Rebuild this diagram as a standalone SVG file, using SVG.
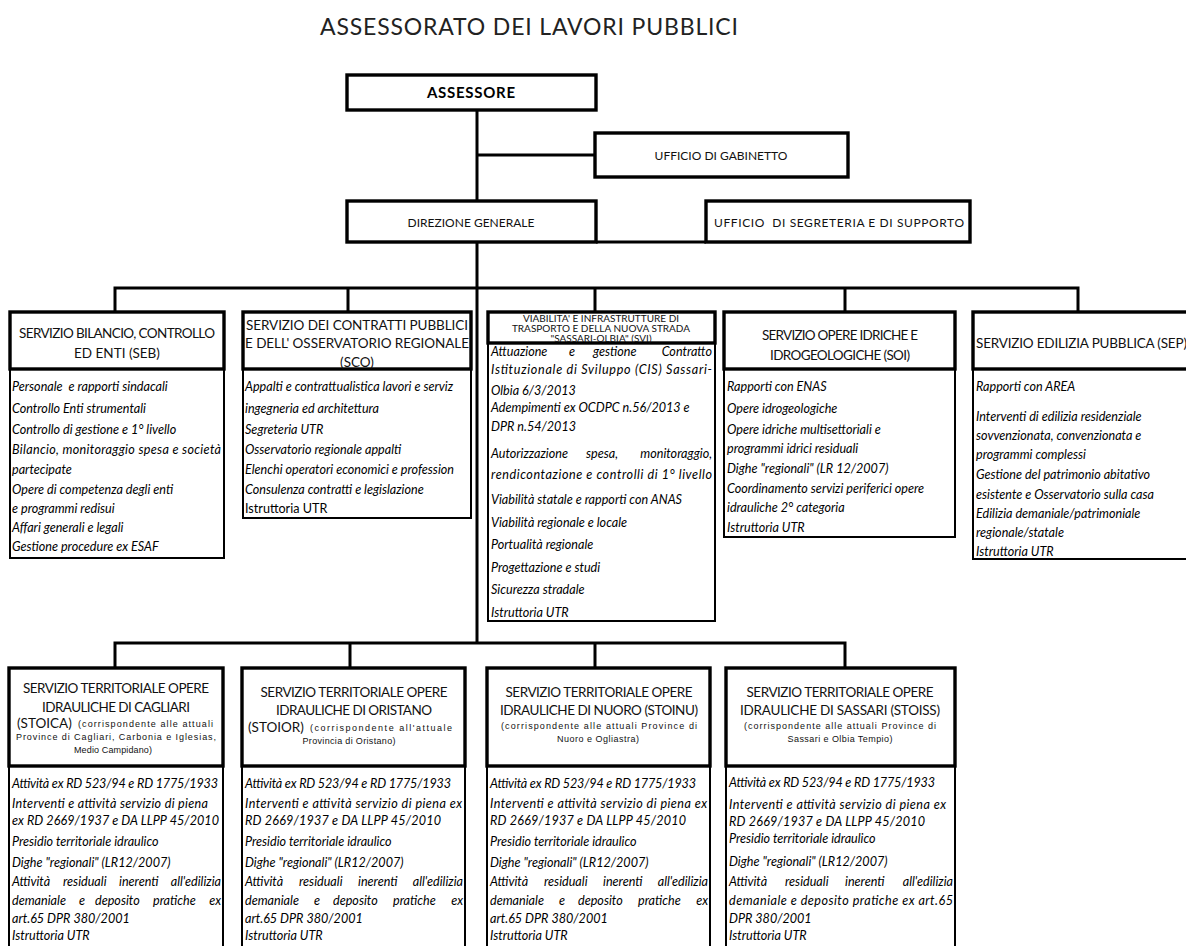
<svg xmlns="http://www.w3.org/2000/svg" width="1186" height="946" viewBox="0 0 1186 946">
<style>
.hb{fill:#fff;stroke:#000;stroke-width:3.4}
.bb{fill:#fff;stroke:#000;stroke-width:2}
.c{stroke:#000;stroke-width:3;fill:none}
.h{font-family:Lato,"Liberation Sans",sans-serif;font-size:13.5px;fill:#111;text-anchor:middle}
.t{font-family:Lato,"Liberation Sans",sans-serif;font-size:12px;fill:#111;text-anchor:middle}
.hs{font-family:Lato,"Liberation Sans",sans-serif;font-size:10px;fill:#111;text-anchor:middle}
.sm{font-family:"Liberation Sans",Arial,sans-serif;font-size:9px;fill:#111}
.mid{text-anchor:middle}
.b{font-family:Lato,"Liberation Sans",sans-serif;font-size:12.6px;font-style:italic;fill:#000}
.u{font-family:Lato,"Liberation Sans",sans-serif;font-size:12.6px;fill:#000}
</style>
<defs>
<clipPath id="clipSCO"><rect x="243" y="369" width="228" height="150"/></clipPath>
</defs>
<rect width="1186" height="946" fill="#fff"/>
<g id="title">
<text x="529" y="35" font-family="Lato, 'Liberation Sans', sans-serif" font-size="23" fill="#222" text-anchor="middle" textLength="418">ASSESSORATO DEI LAVORI PUBBLICI</text>
</g>
<g id="connectors">
<path class="c" d="M477 110V201M477 242V643M477 155H595M596 242H706"/>
<path class="c" d="M115 312V288H1078V312M348 288V312M595 288V312M845 288V312"/>
<path class="c" d="M115 668V643H845V668M350 643V668M595 643V668"/>
</g>
<g id="n-assessore">
<rect class="hb" x="347" y="75" width="249" height="35"/>
<text x="471" y="98" font-family="Lato, 'Liberation Sans', sans-serif" font-size="15" font-weight="bold" text-anchor="middle" textLength="88">ASSESSORE</text>
</g>
<g id="n-gabinetto">
<rect class="hb" x="595" y="133" width="253" height="44"/>
<text class="t" x="721" y="160">UFFICIO DI GABINETTO</text>
</g>
<g id="n-dg">
<rect class="hb" x="347" y="201" width="249" height="41"/>
<text class="t" x="471" y="227">DIREZIONE GENERALE</text>
</g>
<g id="n-segreteria">
<rect class="hb" x="706" y="201" width="264" height="41"/>
<text class="t" x="839" y="227" style="white-space:pre" textLength="250">UFFICIO  DI SEGRETERIA E DI SUPPORTO</text>
</g>
<g id="n-seb">
<rect class="bb" x="10" y="369" width="214" height="189"/>
<rect class="hb" x="10" y="312" width="214" height="57"/>
<text class="h" x="117" y="338" textLength="196">SERVIZIO BILANCIO, CONTROLLO</text>
<text class="h" x="117" y="358">ED ENTI (SEB)</text>
<text class="b" x="12" y="391" style="white-space:pre">Personale  e rapporti sindacali</text>
<text class="b" x="12" y="413">Controllo Enti strumentali</text>
<text class="b" x="12" y="434">Controllo di gestione e 1° livello</text>
<text class="b" x="12" y="454" textLength="209">Bilancio, monitoraggio spesa e società</text>
<text class="b" x="12" y="474">partecipate</text>
<text class="b" x="12" y="494">Opere di competenza degli enti</text>
<text class="b" x="12" y="513">e programmi redisui</text>
<text class="b" x="12" y="532">Affari generali e legali</text>
<text class="b" x="12" y="551">Gestione procedure ex ESAF</text>
</g>
<g id="n-sco">
<rect class="bb" x="243" y="369" width="228" height="149"/>
<rect class="hb" x="243" y="312" width="228" height="57"/>
<text class="h" x="357" y="330" textLength="222">SERVIZIO DEI CONTRATTI PUBBLICI</text>
<text class="h" x="357" y="348" textLength="224">E DELL' OSSERVATORIO REGIONALE</text>
<text class="h" x="357" y="367">(SCO)</text>
<g clip-path="url(#clipSCO)">
<text class="b" x="245" y="391">Appalti e contrattualistica lavori e serviz</text>
<text class="b" x="245" y="413">ingegneria ed architettura</text>
<text class="b" x="245" y="434">Segreteria UTR</text>
<text class="b" x="245" y="454">Osservatorio regionale appalti</text>
<text class="b" x="245" y="474">Elenchi operatori economici e profession</text>
<text class="b" x="245" y="494">Consulenza contratti e legislazione</text>
<text class="u" x="245" y="513">Istruttoria UTR</text>
</g>
</g>
<g id="n-svi">
<rect class="bb" x="488" y="343" width="227" height="278"/>
<rect class="hb" x="488" y="312" width="227" height="31"/>
<text class="hs" x="601" y="321.5">VIABILITA' E INFRASTRUTTURE DI</text>
<text class="hs" x="601" y="331.5">TRASPORTO E DELLA NUOVA STRADA</text>
<text class="hs" x="601" y="341.5">"SASSARI-OLBIA" (SVI)</text>
<text class="b" y="356"><tspan x="491">Attuazione</tspan><tspan x="569">e</tspan><tspan x="593">gestione</tspan><tspan x="712" text-anchor="end">Contratto</tspan></text>
<text class="b" x="491" y="374" textLength="221">Istituzionale di Sviluppo (CIS) Sassari-</text>
<text class="b" x="491" y="395">Olbia 6/3/2013</text>
<text class="b" x="491" y="412">Adempimenti ex OCDPC n.56/2013 e</text>
<text class="b" x="491" y="431">DPR n.54/2013</text>
<text class="b" y="458"><tspan x="491">Autorizzazione</tspan><tspan x="586">spesa,</tspan><tspan x="712" text-anchor="end">monitoraggio,</tspan></text>
<text class="b" x="491" y="479" textLength="221">rendicontazione e controlli di 1° livello</text>
<text class="b" x="491" y="504">Viabilità statale e rapporti con ANAS</text>
<text class="b" x="491" y="527">Viabilità regionale e locale</text>
<text class="b" x="491" y="549">Portualità regionale</text>
<text class="b" x="491" y="572">Progettazione e studi</text>
<text class="b" x="491" y="594">Sicurezza stradale</text>
<text class="b" x="491" y="617">Istruttoria UTR</text>
</g>
<g id="n-soi">
<rect class="bb" x="724" y="369" width="231" height="168"/>
<rect class="hb" x="724" y="312" width="231" height="57"/>
<text class="h" x="840" y="340" textLength="156">SERVIZIO OPERE IDRICHE E</text>
<text class="h" x="840" y="360" textLength="140">IDROGEOLOGICHE (SOI)</text>
<text class="b" x="727" y="391">Rapporti con ENAS</text>
<text class="b" x="727" y="413">Opere idrogeologiche</text>
<text class="b" x="727" y="434">Opere idriche multisettoriali e</text>
<text class="b" x="727" y="453">programmi idrici residuali</text>
<text class="b" x="727" y="473">Dighe "regionali" (LR 12/2007)</text>
<text class="b" x="727" y="493">Coordinamento servizi periferici opere</text>
<text class="b" x="727" y="512">idrauliche 2° categoria</text>
<text class="b" x="727" y="532">Istruttoria UTR</text>
</g>
<g id="n-sep">
<rect class="bb" x="973" y="369" width="230" height="190"/>
<rect class="hb" x="973" y="312" width="230" height="57"/>
<text class="h" x="976" y="348" style="text-anchor:start" textLength="211">SERVIZIO EDILIZIA PUBBLICA (SEP)</text>
<text class="b" x="976" y="391">Rapporti con AREA</text>
<text class="b" x="976" y="421">Interventi di edilizia residenziale</text>
<text class="b" x="976" y="440">sovvenzionata, convenzionata e</text>
<text class="b" x="976" y="459">programmi complessi</text>
<text class="b" x="976" y="479">Gestione del patrimonio abitativo</text>
<text class="b" x="976" y="499">esistente e Osservatorio sulla casa</text>
<text class="b" x="976" y="518">Edilizia demaniale/patrimoniale</text>
<text class="b" x="976" y="537">regionale/statale</text>
<text class="b" x="976" y="556">Istruttoria UTR</text>
</g>
<g id="n-stoica">
<rect class="bb" x="9" y="766" width="214" height="190"/>
<rect class="hb" x="9" y="668" width="214" height="98"/>
<text class="h" x="116" y="693" textLength="186">SERVIZIO TERRITORIALE OPERE</text>
<text class="h" x="116" y="712" textLength="148">IDRAULICHE DI CAGLIARI</text>
<text class="h" x="17" y="728" style="text-anchor:start">(STOICA)</text>
<text class="sm" x="78" y="727" textLength="135">(corrispondente alle attuali</text>
<text class="sm mid" x="116" y="740" textLength="200">Province di Cagliari, Carbonia e Iglesias,</text>
<text class="sm mid" x="113" y="753" textLength="78">Medio Campidano)</text>
<text class="b" x="12" y="788" textLength="206">Attività ex RD 523/94 e RD 1775/1933</text>
<text class="b" x="12" y="808" textLength="196">Interventi e attività servizio di piena</text>
<text class="b" x="12" y="825" textLength="207">ex RD 2669/1937 e DA LLPP 45/2010</text>
<text class="b" x="12" y="846">Presidio territoriale idraulico</text>
<text class="b" x="12" y="867">Dighe "regionali" (LR12/2007)</text>
<text class="b" y="886"><tspan x="12">Attività</tspan><tspan x="63">residuali</tspan><tspan x="119">inerenti</tspan><tspan x="221" text-anchor="end">all'edilizia</tspan></text>
<text class="b" y="905"><tspan x="12">demaniale</tspan><tspan x="79">e</tspan><tspan x="95">deposito</tspan><tspan x="153">pratiche</tspan><tspan x="221" text-anchor="end">ex</tspan></text>
<text class="b" x="12" y="923">art.65 DPR 380/2001</text>
<text class="b" x="12" y="940">Istruttoria UTR</text>
</g>
<g id="n-stoior">
<rect class="bb" x="242" y="766" width="223" height="190"/>
<rect class="hb" x="242" y="668" width="223" height="98"/>
<text class="h" x="354" y="697" textLength="187">SERVIZIO TERRITORIALE OPERE</text>
<text class="h" x="354" y="715" textLength="156">IDRAULICHE DI ORISTANO</text>
<text class="h" x="248" y="732" style="text-anchor:start">(STOIOR)</text>
<text class="sm" x="310" y="731" textLength="142">(corrispondente all'attuale</text>
<text class="sm mid" x="349" y="744" textLength="93">Provincia di Oristano)</text>
<text class="b" x="245" y="788" textLength="206">Attività ex RD 523/94 e RD 1775/1933</text>
<text class="b" x="245" y="808" textLength="217">Interventi e attività servizio di piena ex</text>
<text class="b" x="245" y="825" textLength="196">RD 2669/1937 e DA LLPP 45/2010</text>
<text class="b" x="245" y="846">Presidio territoriale idraulico</text>
<text class="b" x="245" y="867">Dighe "regionali" (LR12/2007)</text>
<text class="b" y="886"><tspan x="245">Attività</tspan><tspan x="299">residuali</tspan><tspan x="358">inerenti</tspan><tspan x="463" text-anchor="end">all'edilizia</tspan></text>
<text class="b" y="905"><tspan x="245">demaniale</tspan><tspan x="314">e</tspan><tspan x="333">deposito</tspan><tspan x="393">pratiche</tspan><tspan x="463" text-anchor="end">ex</tspan></text>
<text class="b" x="245" y="923">art.65 DPR 380/2001</text>
<text class="b" x="245" y="940">Istruttoria UTR</text>
</g>
<g id="n-stoinu">
<rect class="bb" x="487" y="766" width="223" height="190"/>
<rect class="hb" x="487" y="668" width="223" height="98"/>
<text class="h" x="599" y="697" textLength="187">SERVIZIO TERRITORIALE OPERE</text>
<text class="h" x="599" y="715" textLength="198">IDRAULICHE DI NUORO (STOINU)</text>
<text class="sm mid" x="599" y="729" textLength="196">(corrispondente alle attuali Province di</text>
<text class="sm mid" x="598" y="742" textLength="82">Nuoro e Ogliastra)</text>
<text class="b" x="490" y="788" textLength="206">Attività ex RD 523/94 e RD 1775/1933</text>
<text class="b" x="490" y="808" textLength="217">Interventi e attività servizio di piena ex</text>
<text class="b" x="490" y="825" textLength="196">RD 2669/1937 e DA LLPP 45/2010</text>
<text class="b" x="490" y="846">Presidio territoriale idraulico</text>
<text class="b" x="490" y="867">Dighe "regionali" (LR12/2007)</text>
<text class="b" y="886"><tspan x="490">Attività</tspan><tspan x="544">residuali</tspan><tspan x="603">inerenti</tspan><tspan x="708" text-anchor="end">all'edilizia</tspan></text>
<text class="b" y="905"><tspan x="490">demaniale</tspan><tspan x="559">e</tspan><tspan x="578">deposito</tspan><tspan x="638">pratiche</tspan><tspan x="708" text-anchor="end">ex</tspan></text>
<text class="b" x="490" y="923">art.65 DPR 380/2001</text>
<text class="b" x="490" y="940">Istruttoria UTR</text>
</g>
<g id="n-stoiss">
<rect class="bb" x="726" y="766" width="229" height="190"/>
<rect class="hb" x="726" y="668" width="229" height="98"/>
<text class="h" x="840" y="697" textLength="187">SERVIZIO TERRITORIALE OPERE</text>
<text class="h" x="840" y="715" textLength="200">IDRAULICHE DI SASSARI (STOISS)</text>
<text class="sm mid" x="840" y="729" textLength="192">(corrispondente alle attuali Province di</text>
<text class="sm mid" x="840" y="742" textLength="105">Sassari e Olbia Tempio)</text>
<text class="b" x="729" y="787" textLength="206">Attività ex RD 523/94 e RD 1775/1933</text>
<text class="b" x="729" y="809" textLength="217">Interventi e attività servizio di piena ex</text>
<text class="b" x="729" y="826" textLength="196">RD 2669/1937 e DA LLPP 45/2010</text>
<text class="b" x="729" y="843">Presidio territoriale idraulico</text>
<text class="b" x="729" y="866">Dighe "regionali" (LR12/2007)</text>
<text class="b" y="886"><tspan x="729">Attività</tspan><tspan x="785">residuali</tspan><tspan x="845">inerenti</tspan><tspan x="953" text-anchor="end">all'edilizia</tspan></text>
<text class="b" x="729" y="905" textLength="224">demaniale e deposito pratiche ex art.65</text>
<text class="b" x="729" y="923">DPR 380/2001</text>
<text class="b" x="729" y="940">Istruttoria UTR</text>
</g>
</svg>
